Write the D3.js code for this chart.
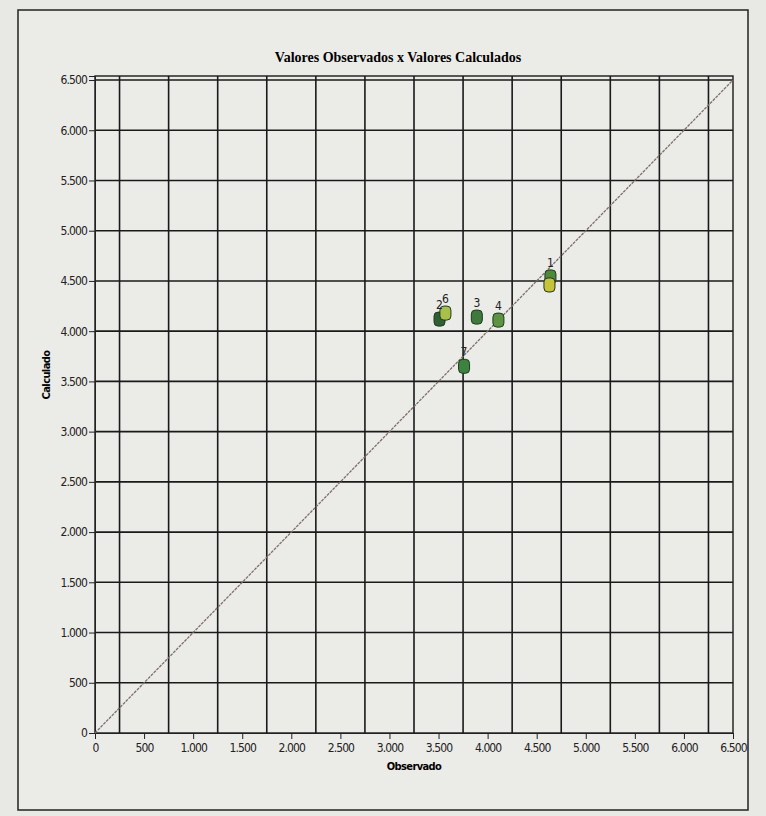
<!DOCTYPE html>
<html>
<head>
<meta charset="utf-8">
<script src="https://cdn.jsdelivr.net/npm/d3@7"></script>
<style>
  body { margin: 0; background: #e8e8e5; }
  svg { display: block; }
  .tick text { font-family: "DejaVu Sans Condensed", "Liberation Sans Narrow", sans-serif; font-size: 12px; letter-spacing: -0.9px; fill: #222; }
</style>
</head>
<body>
<svg id="chart" width="766" height="816"></svg>
<script>
"use strict";

var pointIds   = ["1", "", "2", "6", "3", "4", "7"];
var observed   = [4640, 4630, 3510, 3570, 3890, 4110, 3760];
var calculated = [4540, 4460, 4120, 4180, 4140, 4110, 3650];
var pointFill  = ["#4f8a3a", "#c6c23a", "#2f5f33", "#a8c04a", "#3f7a3c", "#5d9442", "#3e8240"];

var yTicks = [0, 500, 1000, 1500, 2000, 2500, 3000, 3500, 4000, 4500, 5000, 5500, 6000, 6500];
var xTicks = [0, 500, 1000, 1500, 2000, 2500, 3000, 3500, 4000, 4500, 5000, 5500, 6000, 6500];
var xGrid  = [250, 750, 1250, 1750, 2250, 2750, 3250, 3750, 4250, 4750, 5250, 5750, 6250];

var svg = d3.select('#chart');
var plotL = 95, plotR = 733, plotT = 76, plotB = 733;

var x = d3.scaleLinear().domain([0, 6500]).range([plotL, plotR]);
var y = d3.scaleLinear().domain([0, 6540]).range([plotB, plotT]);

var fmt = function (d) { return d3.format(",")(d).replace(/,/g, "."); };

// outer frame
svg.append('rect')
  .attr('x', 18).attr('y', 10).attr('width', 730).attr('height', 800)
  .attr('fill', '#ebebe8').attr('stroke', '#222').attr('stroke-width', 1.5);

svg.append('text')
  .attr('x', 398).attr('y', 62)
  .attr('text-anchor', 'middle')
  .style('font-family', '"Liberation Serif", serif')
  .style('font-weight', 'bold').style('font-size', '14px')
  .text('Valores Observados x Valores Calculados');

// grid
var g = svg.append('g');
g.selectAll('line.hgrid').data(yTicks.slice(1)).enter().append('line')
  .attr('class', 'hgrid')
  .attr('x1', plotL).attr('x2', plotR)
  .attr('y1', function (d) { return y(d); }).attr('y2', function (d) { return y(d); })
  .attr('stroke', '#1a1a1a').attr('stroke-width', 1.6);
g.selectAll('line.vgrid').data(xGrid).enter().append('line')
  .attr('class', 'vgrid')
  .attr('y1', plotT).attr('y2', plotB)
  .attr('x1', function (d) { return x(d); }).attr('x2', function (d) { return x(d); })
  .attr('stroke', '#1a1a1a').attr('stroke-width', 1.6);

g.append('rect')
  .attr('x', plotL).attr('y', plotT).attr('width', plotR - plotL).attr('height', plotB - plotT)
  .attr('fill', 'none').attr('stroke', '#1a1a1a').attr('stroke-width', 1.4);

// axes
svg.append('g')
  .attr('transform', 'translate(0,' + plotB + ')')
  .call(d3.axisBottom(x).tickValues(xTicks).tickFormat(fmt).tickSize(6).tickPadding(4))
  .call(function (a) { a.select('.domain').attr('stroke', '#222'); a.selectAll('.tick line').attr('stroke', '#222'); });

svg.append('g')
  .attr('transform', 'translate(' + plotL + ',0)')
  .call(d3.axisLeft(y).tickValues(yTicks).tickFormat(fmt).tickSize(6).tickPadding(2))
  .call(function (a) { a.select('.domain').attr('stroke', '#222'); a.selectAll('.tick line').attr('stroke', '#222'); });

svg.append('text')
  .attr('x', 414).attr('y', 770)
  .attr('text-anchor', 'middle')
  .style('font-family', '"DejaVu Sans Condensed", sans-serif')
  .style('font-weight', 'bold').style('font-size', '11px').style('letter-spacing', '-0.6px')
  .text('Observado');

svg.append('text')
  .attr('transform', 'translate(50,375) rotate(-90)')
  .attr('text-anchor', 'middle')
  .style('font-family', '"DejaVu Sans Condensed", sans-serif')
  .style('font-weight', 'bold').style('font-size', '11px').style('letter-spacing', '-0.6px')
  .text('Calculado');

// 1:1 line
svg.append('line')
  .attr('x1', x(0)).attr('y1', y(0)).attr('x2', x(6500)).attr('y2', y(6500))
  .attr('stroke', '#7d6e6a').attr('stroke-width', 1.3).attr('stroke-dasharray', '3,1');

// points
var pts = pointIds.map(function (id, i) {
  return { id: id, obs: observed[i], calc: calculated[i], fill: pointFill[i] };
});

svg.selectAll('rect.pt').data(pts).enter().append('rect')
  .attr('class', 'pt')
  .attr('x', function (d) { return x(d.obs) - 5.5; })
  .attr('y', function (d) { return y(d.calc) - 7; })
  .attr('width', 11).attr('height', 14).attr('rx', 4)
  .attr('fill', function (d) { return d.fill; })
  .attr('stroke', '#1e3a1e').attr('stroke-width', 1);

svg.selectAll('text.lbl').data(pts.filter(function (d) { return d.id !== ""; })).enter().append('text')
  .attr('class', 'lbl')
  .attr('x', function (d) { return x(d.obs); })
  .attr('y', function (d) { return y(d.calc) - 10; })
  .attr('text-anchor', 'middle')
  .style('font-family', '"DejaVu Sans Condensed", sans-serif')
  .style('font-size', '12px').attr('fill', '#222')
  .text(function (d) { return d.id; });
</script>
</body>
</html>
